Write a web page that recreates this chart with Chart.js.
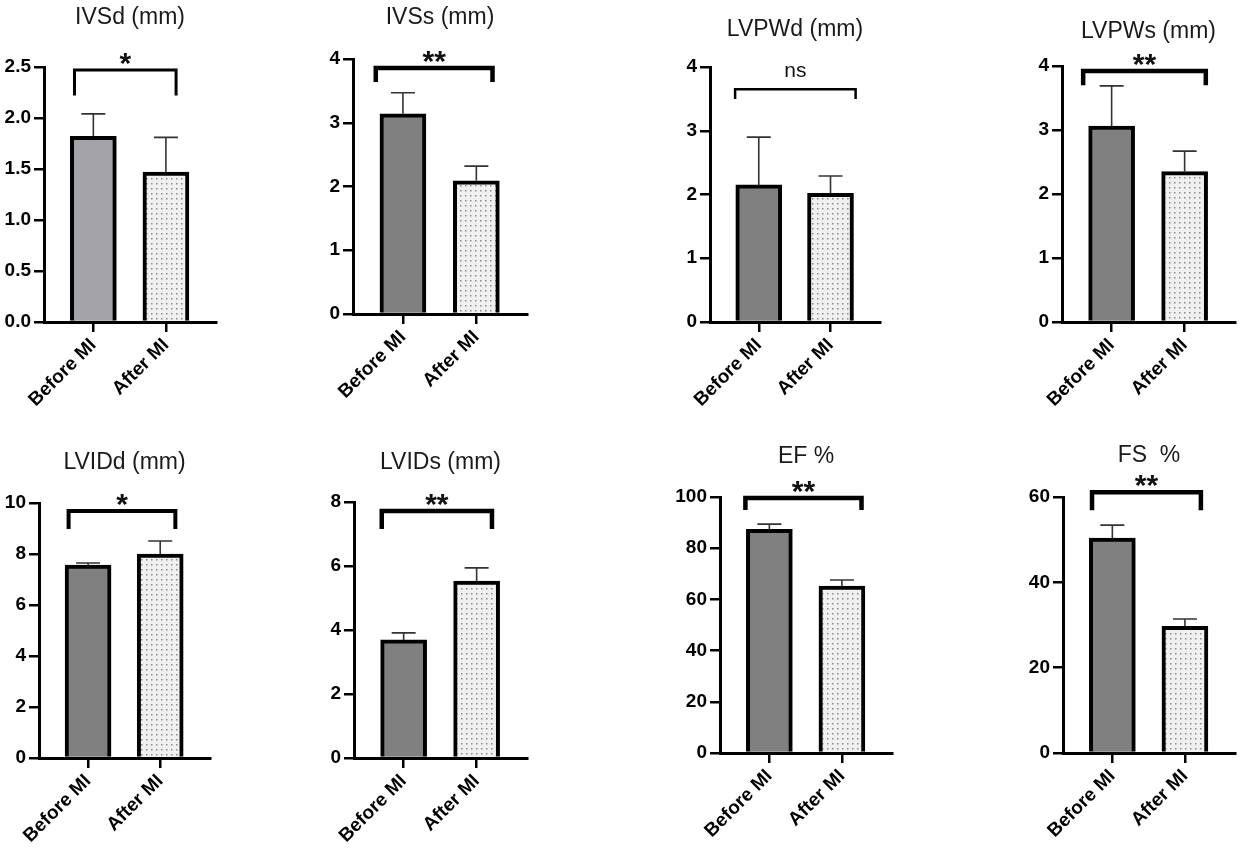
<!DOCTYPE html>
<html>
<head>
<meta charset="utf-8">
<script src="https://cdn.jsdelivr.net/npm/chart.js@4.4.1/dist/chart.umd.min.js"></script>
<style>
  html, body { margin: 0; padding: 0; background: #fff; }
  body { width: 1248px; height: 851px; position: relative; overflow: hidden; }
  .panel { position: absolute; }
</style>
</head>
<body>
<script>
// values (mean and upper error whisker - mean)
const groups = ['Before MI', 'After MI'];
const titles = ['IVSd (mm)', 'IVSs (mm)', 'LVPWd (mm)', 'LVPWs (mm)', 'LVIDd (mm)', 'LVIDs (mm)', 'EF %', 'FS  %'];
const beforeMI = [1.82, 3.14, 2.15, 3.06, 7.57, 3.69, 87.4, 50.4];
const beforeSD = [0.22, 0.33, 0.75, 0.63, 0.08, 0.22, 2.0, 3.0];
const afterMI = [1.47, 2.09, 2.02, 2.35, 8.0, 5.53, 65.2, 29.7];
const afterSD = [0.34, 0.23, 0.27, 0.32, 0.51, 0.41, 2.4, 1.7];
const yMax = [2.5, 4, 4, 4, 10, 8, 100, 60];
const yStep = [0.5, 1, 1, 1, 2, 2, 20, 20];
const significance = ['*', '**', 'ns', '**', '*', '**', '**', '**'];

// layout: plot box on the page [left, top, right, bottom]
const boxes = [
  [44, 67, 216, 322], [353, 59, 527, 314], [710, 67, 880, 322], [1062, 66, 1235, 322],
  [39, 503, 210, 758], [354, 502, 527, 758], [720, 497, 892, 753], [1063, 497, 1235, 753]
];
const titleGap = [49, 41, 37, 34, 40, 39, 40, 41];
// significance bracket (y in axis units, x in category units)
const bracketY = [2.47, 3.86, 3.65, 3.92, 9.69, 7.72, 99.6, 61.1];
const bracketLeg = [2.22, 3.64, 3.50, 3.70, 8.98, 7.16, 94.9, 56.9];
const bracketX = [[-0.26, 1.14], [-0.37, 1.22], [-0.33, 1.35], [-0.39, 1.29], [-0.27, 1.21], [-0.30, 1.21], [-0.33, 1.27], [-0.28, 1.22]];
const bracketLw = [3, 4.5, 2.5, 4.5, 4, 4.5, 4.5, 4.5];

const FONT = '"Liberation Sans", Arial, sans-serif';

function dots() {
  const c = document.createElement('canvas');
  c.width = 5; c.height = 5;
  const g = c.getContext('2d');
  g.fillStyle = '#f0f0f0';
  g.fillRect(0, 0, 5, 5);
  g.fillStyle = '#8a8a8a';
  g.fillRect(2, 2, 1.5, 1.5);
  return g.createPattern(c, 'repeat');
}

const marks = {
  id: 'marks',
  afterDatasetsDraw(chart, args, o) {
    const i = o.i;
    const { ctx, chartArea: a, scales: { x, y } } = chart;
    const bars = chart.getDatasetMeta(0).data;
    const vals = [beforeMI[i], afterMI[i]];
    const sds = [beforeSD[i], afterSD[i]];
    ctx.save();
    // error bars
    ctx.strokeStyle = '#333';
    ctx.lineWidth = 1.6;
    bars.forEach((b, k) => {
      const top = y.getPixelForValue(vals[k] + sds[k]);
      ctx.beginPath();
      ctx.moveTo(b.x, b.y);
      ctx.lineTo(b.x, top);
      ctx.moveTo(b.x - 12, top);
      ctx.lineTo(b.x + 12, top);
      ctx.stroke();
    });
    // bracket
    const x0 = x.getPixelForValue(bracketX[i][0]);
    const x1 = x.getPixelForValue(bracketX[i][1]);
    const by = y.getPixelForValue(bracketY[i]);
    const leg = y.getPixelForValue(bracketLeg[i]);
    ctx.strokeStyle = '#000';
    ctx.lineWidth = bracketLw[i];
    ctx.beginPath();
    ctx.moveTo(x0, leg);
    ctx.lineTo(x0, by);
    ctx.lineTo(x1, by);
    ctx.lineTo(x1, leg);
    ctx.stroke();
    // significance
    ctx.fillStyle = '#111';
    ctx.textAlign = 'center';
    ctx.textBaseline = 'alphabetic';
    const sx = (x0 + x1) / 2;
    if (significance[i] === 'ns') {
      ctx.font = '21px ' + FONT;
      ctx.fillText('ns', sx, by - 12);
    } else {
      ctx.font = 'bold 30px ' + FONT;
      ctx.fillText(significance[i], sx, by + 3);
    }
    // title
    ctx.font = '23px ' + FONT;
    ctx.fillStyle = '#1a1a1a';
    ctx.textBaseline = 'middle';
    ctx.fillText(titles[i], (a.left + a.right) / 2, a.top - titleGap[i]);
    ctx.restore();
  }
};

const pattern = dots();

titles.forEach((t, i) => {
  const [l, tp, r, b] = boxes[i];
  const div = document.createElement('div');
  div.className = 'panel';
  div.style.left = (l - 60) + 'px';
  div.style.top = (tp - 66) + 'px';
  div.style.width = (r - l + 74) + 'px';
  div.style.height = (b - tp + 166) + 'px';
  const cv = document.createElement('canvas');
  div.appendChild(cv);
  document.body.appendChild(div);

  new Chart(cv, {
    type: 'bar',
    data: {
      datasets: [{
        data: [{ x: 0, y: beforeMI[i] }, { x: 1, y: afterMI[i] }],
        backgroundColor: [i === 0 ? '#a3a3a8' : '#808080', pattern],
        borderColor: '#000',
        borderWidth: 4,
        barThickness: 46
      }]
    },
    options: {
      responsive: true,
      maintainAspectRatio: false,
      animation: false,
      layout: { padding: { top: 66, right: 14, left: 0, bottom: 0 } },
      plugins: { legend: { display: false }, tooltip: { enabled: false }, marks: { i } },
      scales: {
        x: {
          type: 'linear',
          min: -0.68,
          max: 1.69,
          offset: false,
          afterBuildTicks: s => { s.ticks = [{ value: 0 }, { value: 1 }]; },
          afterFit: s => { s.height = 100; },
          ticks: {
            callback: v => groups[v],
            autoSkip: false,
            minRotation: 45,
            maxRotation: 45,
            padding: 2,
            color: '#000',
            font: { family: FONT, size: 19, weight: 'bold' }
          },
          grid: { offset: false, drawOnChartArea: false, tickLength: 10, color: '#000', lineWidth: 2.5 },
          border: { color: '#000', width: 3 }
        },
        y: {
          min: 0,
          max: yMax[i],
          afterFit: s => { s.width = 60; },
          ticks: {
            stepSize: yStep[i],
            callback: v => i === 0 ? v.toFixed(1) : v,
            padding: 3,
            color: '#000',
            font: { family: FONT, size: 19, weight: 'bold' }
          },
          grid: { drawOnChartArea: false, tickLength: 10, color: '#000', lineWidth: 2.5 },
          border: { color: '#000', width: 3 }
        }
      }
    },
    plugins: [marks]
  });
});
</script>
</body>
</html>
